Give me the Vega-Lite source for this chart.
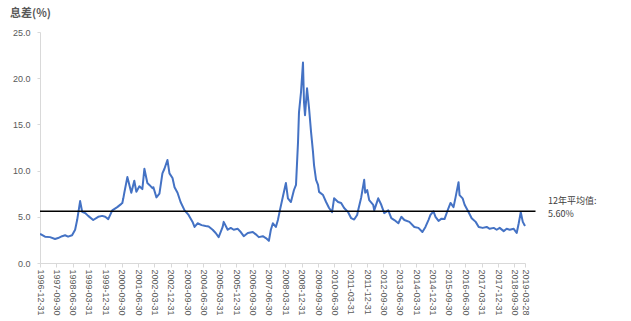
{
  "$schema": "https://vega.github.io/schema/vega-lite/v6.json",
  "width": 485,
  "height": 231,
  "autosize": {"type": "none"},
  "padding": {"left": 40, "top": 32, "right": 106, "bottom": 58},
  "background": "white",
  "title": {"text": "息差(%)", "anchor": "start", "frame": "group", "dx": -30, "offset": 9, "fontSize": 11, "fontWeight": "bold", "color": "#595959", "font": "Noto Sans CJK SC"},
  "config": {"view": {"stroke": null}, "font": "Liberation Sans"},
  "datasets": {
    "spread": [
      {"date": "1996-12-31", "v": 3.1}, {"date": "1997-01-17", "v": 3.1}, {"date": "1997-03-25", "v": 2.85}, {"date": "1997-06-17", "v": 2.8},
      {"date": "1997-09-09", "v": 2.6}, {"date": "1997-10-30", "v": 2.7}, {"date": "1998-01-05", "v": 2.9}, {"date": "1998-02-24", "v": 3.0},
      {"date": "1998-04-15", "v": 2.85}, {"date": "1998-06-21", "v": 3.0}, {"date": "1998-08-11", "v": 3.6}, {"date": "1998-09-14", "v": 4.65},
      {"date": "1998-11-03", "v": 6.7}, {"date": "1998-12-07", "v": 5.55}, {"date": "1999-01-26", "v": 5.4}, {"date": "1999-03-18", "v": 5.1},
      {"date": "1999-06-10", "v": 4.65}, {"date": "1999-09-02", "v": 5.0}, {"date": "1999-11-08", "v": 5.1}, {"date": "1999-12-28", "v": 5.0},
      {"date": "2000-02-17", "v": 4.75}, {"date": "2000-04-24", "v": 5.7}, {"date": "2000-07-17", "v": 6.05}, {"date": "2000-09-23", "v": 6.4},
      {"date": "2000-10-10", "v": 6.5}, {"date": "2000-10-26", "v": 7.0}, {"date": "2000-11-12", "v": 7.6}, {"date": "2001-01-02", "v": 9.3},
      {"date": "2001-03-09", "v": 7.6}, {"date": "2001-04-28", "v": 8.9}, {"date": "2001-06-02", "v": 7.7}, {"date": "2001-07-22", "v": 8.3},
      {"date": "2001-09-10", "v": 8.0}, {"date": "2001-10-14", "v": 10.2}, {"date": "2001-12-03", "v": 8.65}, {"date": "2002-01-06", "v": 8.45},
      {"date": "2002-02-26", "v": 8.1}, {"date": "2002-03-14", "v": 8.2}, {"date": "2002-05-04", "v": 7.1}, {"date": "2002-06-23", "v": 7.5},
      {"date": "2002-08-12", "v": 9.7}, {"date": "2002-09-15", "v": 10.2}, {"date": "2002-11-04", "v": 11.15}, {"date": "2002-12-08", "v": 9.7},
      {"date": "2003-01-28", "v": 9.2}, {"date": "2003-03-03", "v": 8.2}, {"date": "2003-04-22", "v": 7.6}, {"date": "2003-06-12", "v": 6.6},
      {"date": "2003-08-18", "v": 5.7}, {"date": "2003-10-24", "v": 5.2}, {"date": "2003-12-30", "v": 4.45}, {"date": "2004-02-01", "v": 3.9},
      {"date": "2004-03-23", "v": 4.3}, {"date": "2004-05-29", "v": 4.1}, {"date": "2004-08-04", "v": 4.0}, {"date": "2004-09-24", "v": 3.95},
      {"date": "2004-11-30", "v": 3.6}, {"date": "2005-01-20", "v": 3.25}, {"date": "2005-03-11", "v": 2.8}, {"date": "2005-05-17", "v": 3.9},
      {"date": "2005-06-03", "v": 4.45}, {"date": "2005-08-09", "v": 3.6}, {"date": "2005-09-29", "v": 3.8}, {"date": "2005-11-18", "v": 3.6},
      {"date": "2006-01-25", "v": 3.7}, {"date": "2006-03-16", "v": 3.35}, {"date": "2006-05-05", "v": 2.9}, {"date": "2006-07-12", "v": 3.25},
      {"date": "2006-10-04", "v": 3.35}, {"date": "2006-11-23", "v": 3.1}, {"date": "2007-01-12", "v": 2.8}, {"date": "2007-03-20", "v": 2.9},
      {"date": "2007-05-10", "v": 2.7}, {"date": "2007-06-30", "v": 2.4}, {"date": "2007-08-02", "v": 3.6}, {"date": "2007-09-05", "v": 4.3},
      {"date": "2007-10-25", "v": 3.9}, {"date": "2007-11-28", "v": 4.65}, {"date": "2007-12-31", "v": 5.7}, {"date": "2008-02-20", "v": 7.2},
      {"date": "2008-04-10", "v": 8.65}, {"date": "2008-05-14", "v": 7.0}, {"date": "2008-07-03", "v": 6.6}, {"date": "2008-08-23", "v": 7.9},
      {"date": "2008-09-26", "v": 8.45}, {"date": "2008-10-30", "v": 13.1}, {"date": "2008-11-15", "v": 16.3}, {"date": "2008-12-19", "v": 18.5},
      {"date": "2009-01-21", "v": 21.7}, {"date": "2009-02-07", "v": 17.4}, {"date": "2009-02-24", "v": 16.0}, {"date": "2009-03-30", "v": 18.9},
      {"date": "2009-05-02", "v": 16.8}, {"date": "2009-06-05", "v": 14.2}, {"date": "2009-07-08", "v": 12.0}, {"date": "2009-07-25", "v": 10.6},
      {"date": "2009-08-28", "v": 9.0}, {"date": "2009-09-30", "v": 8.45}, {"date": "2009-10-17", "v": 7.7}, {"date": "2009-12-23", "v": 7.35},
      {"date": "2010-02-12", "v": 6.6}, {"date": "2010-04-03", "v": 5.95}, {"date": "2010-05-23", "v": 5.5}, {"date": "2010-06-26", "v": 7.0},
      {"date": "2010-09-01", "v": 6.6}, {"date": "2010-10-22", "v": 6.5}, {"date": "2010-12-11", "v": 5.95}, {"date": "2011-02-16", "v": 5.5},
      {"date": "2011-04-08", "v": 4.85}, {"date": "2011-05-28", "v": 4.7}, {"date": "2011-07-17", "v": 5.2}, {"date": "2011-08-03", "v": 5.7},
      {"date": "2011-09-23", "v": 7.1}, {"date": "2011-11-12", "v": 9.0}, {"date": "2011-11-29", "v": 7.6}, {"date": "2012-01-01", "v": 7.9},
      {"date": "2012-02-04", "v": 6.8}, {"date": "2012-04-11", "v": 6.3}, {"date": "2012-04-28", "v": 5.7}, {"date": "2012-07-04", "v": 7.0},
      {"date": "2012-08-24", "v": 6.3}, {"date": "2012-10-13", "v": 5.4}, {"date": "2012-12-19", "v": 5.7}, {"date": "2013-02-08", "v": 4.85},
      {"date": "2013-03-31", "v": 4.65}, {"date": "2013-06-06", "v": 4.3}, {"date": "2013-07-26", "v": 5.0}, {"date": "2013-09-15", "v": 4.65},
      {"date": "2013-12-08", "v": 4.45}, {"date": "2014-03-01", "v": 3.9}, {"date": "2014-05-08", "v": 3.8}, {"date": "2014-07-14", "v": 3.35},
      {"date": "2014-09-03", "v": 3.9}, {"date": "2014-10-23", "v": 4.65}, {"date": "2014-11-26", "v": 5.2}, {"date": "2015-01-15", "v": 5.6},
      {"date": "2015-02-18", "v": 5.0}, {"date": "2015-04-10", "v": 4.55}, {"date": "2015-05-30", "v": 4.8}, {"date": "2015-07-19", "v": 4.75},
      {"date": "2015-09-24", "v": 5.95}, {"date": "2015-10-28", "v": 6.5}, {"date": "2015-12-17", "v": 6.05}, {"date": "2016-01-20", "v": 7.1},
      {"date": "2016-03-10", "v": 8.75}, {"date": "2016-03-27", "v": 7.35}, {"date": "2016-05-17", "v": 7.0}, {"date": "2016-06-20", "v": 6.3},
      {"date": "2016-08-26", "v": 5.5}, {"date": "2016-10-16", "v": 4.85}, {"date": "2016-12-22", "v": 4.45}, {"date": "2017-02-11", "v": 3.9},
      {"date": "2017-04-18", "v": 3.8}, {"date": "2017-06-25", "v": 3.9}, {"date": "2017-08-14", "v": 3.7}, {"date": "2017-10-20", "v": 3.8},
      {"date": "2017-12-09", "v": 3.6}, {"date": "2018-01-28", "v": 3.8}, {"date": "2018-04-05", "v": 3.45}, {"date": "2018-05-25", "v": 3.7},
      {"date": "2018-07-15", "v": 3.6}, {"date": "2018-09-20", "v": 3.7}, {"date": "2018-11-09", "v": 3.25}, {"date": "2018-12-13", "v": 4.3},
      {"date": "2019-01-16", "v": 5.5}, {"date": "2019-02-19", "v": 4.45}, {"date": "2019-03-28", "v": 4.0}
    ],
    "avg": [
      {"start": "1996-12-31", "end": "2019-09-20", "labelAt": "2019-03-28", "v": 5.6, "label": ["12年平均值:", "5.60%"]}
    ]
  },
  "layer": [
    {
      "data": {"name": "spread"},
      "mark": {"type": "line", "color": "#4472C4", "strokeWidth": 2, "strokeJoin": "round"},
      "encoding": {
        "x": {
          "field": "date", "type": "temporal",
          "scale": {"type": "utc", "domain": [{"year": 1996, "month": 12, "date": 31, "utc": true}, {"year": 2019, "month": 3, "date": 28, "utc": true}]},
          "axis": {
            "title": null, "grid": false, "tickCount": 200,
            "values": [
              {"year": 1996, "month": 12, "date": 31, "utc": true}, {"year": 1997, "month": 9, "date": 30, "utc": true},
              {"year": 1998, "month": 6, "date": 30, "utc": true}, {"year": 1999, "month": 3, "date": 31, "utc": true},
              {"year": 1999, "month": 12, "date": 31, "utc": true}, {"year": 2000, "month": 9, "date": 30, "utc": true},
              {"year": 2001, "month": 6, "date": 30, "utc": true}, {"year": 2002, "month": 3, "date": 31, "utc": true},
              {"year": 2002, "month": 12, "date": 31, "utc": true}, {"year": 2003, "month": 9, "date": 30, "utc": true},
              {"year": 2004, "month": 6, "date": 30, "utc": true}, {"year": 2005, "month": 3, "date": 31, "utc": true},
              {"year": 2005, "month": 12, "date": 31, "utc": true}, {"year": 2006, "month": 9, "date": 30, "utc": true},
              {"year": 2007, "month": 6, "date": 30, "utc": true}, {"year": 2008, "month": 3, "date": 31, "utc": true},
              {"year": 2008, "month": 12, "date": 31, "utc": true}, {"year": 2009, "month": 9, "date": 30, "utc": true},
              {"year": 2010, "month": 6, "date": 30, "utc": true}, {"year": 2011, "month": 3, "date": 31, "utc": true},
              {"year": 2011, "month": 12, "date": 31, "utc": true}, {"year": 2012, "month": 9, "date": 30, "utc": true},
              {"year": 2013, "month": 6, "date": 30, "utc": true}, {"year": 2014, "month": 3, "date": 31, "utc": true},
              {"year": 2014, "month": 12, "date": 31, "utc": true}, {"year": 2015, "month": 9, "date": 30, "utc": true},
              {"year": 2016, "month": 6, "date": 30, "utc": true}, {"year": 2017, "month": 3, "date": 31, "utc": true},
              {"year": 2017, "month": 12, "date": 31, "utc": true}, {"year": 2018, "month": 9, "date": 30, "utc": true},
              {"year": 2019, "month": 3, "date": 28, "utc": true}
            ],
            "format": "%Y-%m-%d", "labelAngle": 90, "labelFontSize": 9, "labelColor": "#595959",
            "domainColor": "#d9d9d9", "tickColor": "#d9d9d9", "tickSize": 4, "labelPadding": 2,
            "labelOverlap": false, "labelBound": false, "labelFlush": false
          }
        },
        "y": {
          "field": "v", "type": "quantitative",
          "scale": {"domain": [0, 25], "nice": false},
          "axis": {
            "title": null, "grid": false, "values": [0, 5, 10, 15, 20, 25], "format": ".1f",
            "labelFontSize": 9, "labelColor": "#595959", "domainColor": "#d9d9d9", "tickColor": "#d9d9d9",
            "tickSize": 3, "labelPadding": 7
          }
        }
      }
    },
    {
      "data": {"name": "avg"},
      "mark": {"type": "rule", "color": "#000000", "strokeWidth": 1.5},
      "encoding": {
        "x": {"field": "start", "type": "temporal"},
        "x2": {"field": "end"},
        "y": {"field": "v", "type": "quantitative"}
      }
    },
    {
      "data": {"name": "avg"},
      "mark": {"type": "text", "align": "left", "baseline": "alphabetic", "dx": 23, "dy": -7, "fontSize": 9, "lineHeight": 13, "color": "#404040", "font": "Noto Sans CJK SC"},
      "encoding": {
        "x": {"field": "labelAt", "type": "temporal"},
        "y": {"field": "v", "type": "quantitative"},
        "text": {"field": "label"}
      }
    }
  ]
}
